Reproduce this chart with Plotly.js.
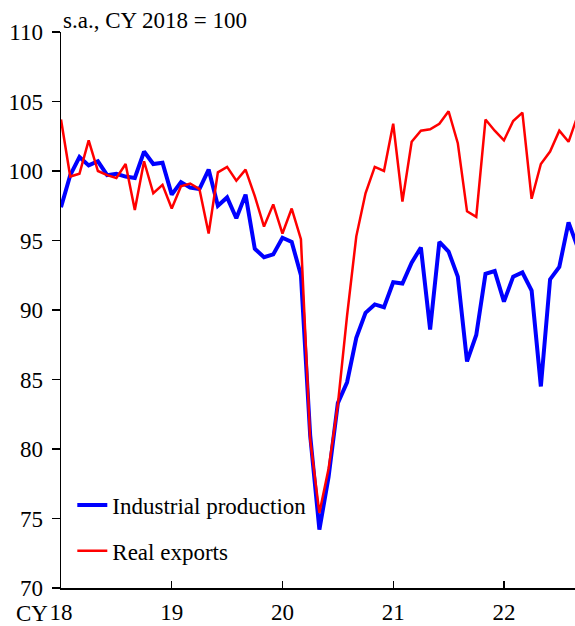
<!DOCTYPE html>
<html>
<head>
<meta charset="utf-8">
<script src="https://cdn.plot.ly/plotly-3.0.1.min.js"></script>
<style>html,body{margin:0;padding:0;background:#fff;}#chart{width:575px;height:626px;}</style>
</head>
<body>
<div id="chart"></div>
<script>
// Month index 0 = Jan 2018
const industrialProduction = [
  97.4, 99.7, 101.0, 100.4, 100.7, 99.7, 99.8, 99.6, 99.5, 101.4, 100.5, 100.6,
  98.3, 99.2, 98.8, 98.7, 100.1, 97.5, 98.1, 96.6, 98.3, 94.4, 93.8, 94.0,
  95.2, 94.9, 92.5, 81.0, 74.2, 78.0, 83.3, 84.8, 88.0, 89.8, 90.4, 90.2,
  92.0, 91.9, 93.4, 94.5, 88.6, 94.9, 94.2, 92.4, 86.3, 88.2, 92.6, 92.8,
  90.6, 92.4, 92.7, 91.4, 84.5, 92.2, 93.1, 96.3, 94.5
];
const realExports = [
  103.7, 99.6, 99.8, 102.2, 100.0, 99.7, 99.5, 100.5, 97.2, 100.7, 98.4, 99.0,
  97.3, 98.9, 99.1, 98.7, 95.5, 99.9, 100.3, 99.3, 100.1, 98.2, 96.0, 97.6,
  95.5, 97.3, 95.1, 80.7, 75.4, 78.6, 83.2, 89.6, 95.3, 98.4, 100.3, 100.0,
  103.4, 97.8, 102.1, 102.9, 103.0, 103.4, 104.3, 102.0, 97.1, 96.7, 103.7, 102.9,
  102.2, 103.6, 104.2, 98.0, 100.5, 101.4, 102.9, 102.1, 104.0
];
const tickPositions = [0, 12, 24, 36, 48];
const tickLabels = ["18", "19", "20", "21", "22"];
const yTicks = [70, 75, 80, 85, 90, 95, 100, 105, 110];

const months = industrialProduction.map((_, i) => i);
const font = "Liberation Serif";
const fs = 23;

const traces = [
  {x: months, y: industrialProduction, type: "scatter", mode: "lines",
   name: "Industrial production", legendgroup: "a",
   line: {color: "#0000FF", width: 4}},
  {x: months, y: realExports, type: "scatter", mode: "lines",
   name: "Real exports", legendgroup: "b",
   line: {color: "#FF0000", width: 2.5}}
];

const layout = {
  width: 575, height: 626,
  margin: {l: 61, r: 0, t: 32, b: 38},
  paper_bgcolor: "#fff", plot_bgcolor: "#fff",
  font: {family: font, size: fs, color: "#000"},
  showlegend: true,
  legend: {x: 0.022, y: 0.188, xanchor: "left", yanchor: "top",
           bgcolor: "rgba(0,0,0,0)", font: {family: font, size: fs, color: "#000"},
           tracegroupgap: 13},
  xaxis: {range: [0, 55.7], tickvals: tickPositions, ticktext: tickLabels,
          ticks: "inside", ticklen: 7, tickwidth: 1.2, tickcolor: "#000",
          ticklabelstandoff: 3,
          showline: true, linecolor: "#000", linewidth: 1.5,
          showgrid: false, zeroline: false,
          tickfont: {family: font, size: fs, color: "#000"}},
  yaxis: {range: [70, 110], tickvals: yTicks,
          ticks: "outside", ticklen: 8, tickwidth: 1.2, tickcolor: "#000",
          ticklabelstandoff: 4,
          showline: true, linecolor: "#000", linewidth: 1.5,
          showgrid: false, zeroline: false,
          tickfont: {family: font, size: fs, color: "#000"}},
  annotations: [
    {text: "s.a., CY 2018 = 100", xref: "paper", yref: "paper", x: 0, y: 1,
     xanchor: "left", yanchor: "bottom", xshift: 0, yshift: -3, showarrow: false,
     font: {family: font, size: fs, color: "#000"}},
    {text: "CY", xref: "paper", yref: "paper", x: 0, y: 0,
     xanchor: "right", yanchor: "top", xshift: -12, yshift: -12, showarrow: false,
     borderpad: 0,
     font: {family: font, size: fs, color: "#000"}}
  ]
};

Plotly.newPlot("chart", traces, layout, {displayModeBar: false, staticPlot: true});
</script>
</body>
</html>
